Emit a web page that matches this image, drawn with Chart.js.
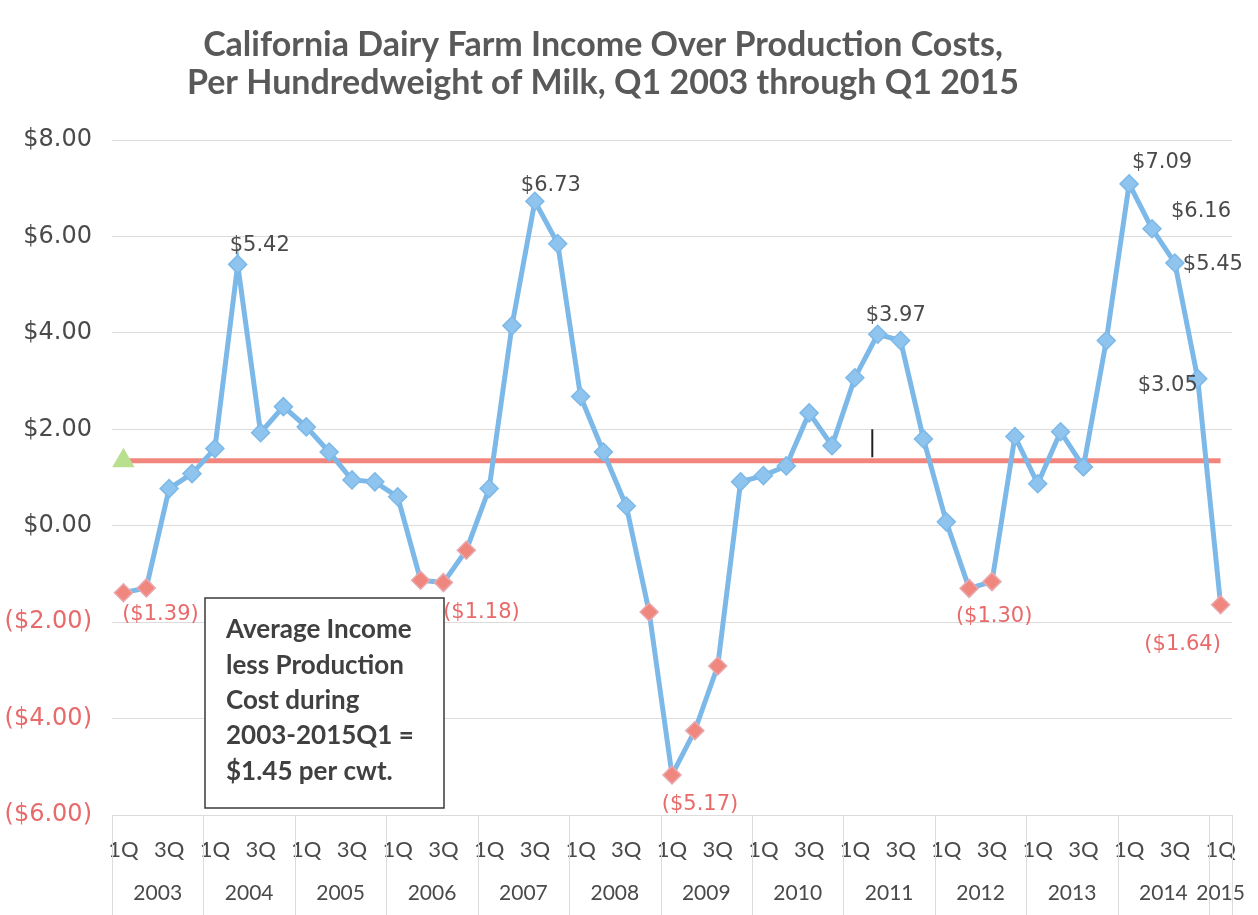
<!DOCTYPE html>
<html>
<head>
<meta charset="utf-8">
<script src="https://cdn.jsdelivr.net/npm/chart.js@4.4.1/dist/chart.umd.min.js"></script>
<style>
  html, body { margin: 0; padding: 0; background: #fff; }
  #wrap { width: 1258px; height: 915px; position: relative; }
</style>
</head>
<body>
<div id="wrap"><canvas id="dairyChart"></canvas></div>
<script>
// Quarter labels, years and income-over-cost values ($/cwt)
const quarters = [
  '1Q','2Q','3Q','4Q', '1Q','2Q','3Q','4Q', '1Q','2Q','3Q','4Q', '1Q','2Q','3Q','4Q',
  '1Q','2Q','3Q','4Q', '1Q','2Q','3Q','4Q', '1Q','2Q','3Q','4Q', '1Q','2Q','3Q','4Q',
  '1Q','2Q','3Q','4Q', '1Q','2Q','3Q','4Q', '1Q','2Q','3Q','4Q', '1Q','2Q','3Q','4Q',
  '1Q'
];
const years = ['2003','2004','2005','2006','2007','2008','2009','2010','2011','2012','2013','2014','2015'];
const income = [
  -1.39, -1.29, 0.77, 1.08,   // 2003
   1.60,  5.42, 1.93, 2.47,   // 2004
   2.05,  1.53, 0.95, 0.91,   // 2005
   0.60, -1.13, -1.18, -0.51, // 2006
   0.77,  4.15, 6.73, 5.85,   // 2007
   2.68,  1.53, 0.41, -1.79,  // 2008
  -5.17, -4.25, -2.91, 0.91,  // 2009
   1.04,  1.24, 2.34, 1.66,   // 2010
   3.07,  3.97, 3.84, 1.80,   // 2011
   0.08, -1.30, -1.16, 1.85,  // 2012
   0.87,  1.95, 1.22, 3.84,   // 2013
   7.09,  6.16, 5.45, 3.05,   // 2014
  -1.64                       // 2015
];
const averageValue = 1.35;
const yTicks = [-6, -4, -2, 0, 2, 4, 6, 8];
const boxLines = ['Average Income', 'less Production', 'Cost during', '2003-2015Q1 =', '$1.45 per cwt.'];

// which points carry a value label, and where it sits relative to the marker (px)
const labelSpots = [
  { i: 0,  dx: 37,  dy: 22 },
  { i: 5,  dx: 22,  dy: -19 },
  { i: 14, dx: 38,  dy: 30 },
  { i: 18, dx: 16,  dy: -16 },
  { i: 24, dx: 28,  dy: 30 },
  { i: 33, dx: 18,  dy: -19 },
  { i: 37, dx: 25,  dy: 28 },
  { i: 44, dx: 33,  dy: -21 },
  { i: 45, dx: 49,  dy: -17 },
  { i: 46, dx: 38,  dy: 2 },
  { i: 47, dx: -30, dy: 7 },
  { i: 48, dx: -38, dy: 40 }
];

const colors = {
  line: '#7db9e8',
  posPoint: '#8ec4ee',
  negPoint: '#f0877e',
  avg: '#f3867c',
  avgMarker: '#b9e08e',
  text: '#4a4a4a',
  negText: '#e86a6a',
  grid: '#dcdcdc'
};

function money(v) {
  const s = '$' + Math.abs(v).toFixed(2);
  return v < 0 ? '(' + s + ')' : s;
}

// Title, year row, separators, value labels and the note box
const decorations = {
  id: 'decorations',
  afterDraw(chart) {
    const ctx = chart.ctx;
    const area = chart.chartArea;
    const x = chart.scales.x;
    const y = chart.scales.y;
    const half = (x.getPixelForValue(1) - x.getPixelForValue(0)) / 2;

    ctx.save();
    // title
    ctx.fillStyle = '#595959';
    ctx.font = "bold 34px Lato";
    ctx.textAlign = 'center';
    ctx.textBaseline = 'middle';
    ctx.fillText('California Dairy Farm Income Over Production Costs,', 603, 45);
    ctx.fillText('Per Hundredweight of Milk, Q1 2003 through Q1 2015', 603, 83);

    // year groups below the quarter labels
    ctx.strokeStyle = colors.grid;
    ctx.lineWidth = 1;
    ctx.font = "21px Lato";
    ctx.fillStyle = colors.text;
    years.forEach((yr, k) => {
      const first = k * 4;
      const last = Math.min(first + 3, quarters.length - 1);
      const left = x.getPixelForValue(first) - half;
      const right = x.getPixelForValue(last) + half;
      ctx.beginPath();
      ctx.moveTo(Math.round(left) + 0.5, area.bottom);
      ctx.lineTo(Math.round(left) + 0.5, 915);
      ctx.stroke();
      if (k === years.length - 1) {
        ctx.beginPath();
        ctx.moveTo(Math.round(right) + 0.5, area.bottom);
        ctx.lineTo(Math.round(right) + 0.5, 915);
        ctx.stroke();
      }
      ctx.fillText(yr, (left + right) / 2, 893);
    });

    // small vertical tick near 2011
    const tx = (x.getPixelForValue(32) + x.getPixelForValue(33)) / 2 + 6;
    ctx.strokeStyle = '#222';
    ctx.lineWidth = 2;
    ctx.beginPath();
    ctx.moveTo(tx, y.getPixelForValue(2.0));
    ctx.lineTo(tx, y.getPixelForValue(1.42));
    ctx.stroke();

    // value labels
    const meta = chart.getDatasetMeta(1);
    ctx.font = "21px 'DejaVu Sans'";
    labelSpots.forEach(s => {
      const pt = meta.data[s.i];
      const v = income[s.i];
      ctx.fillStyle = v < 0 ? colors.negText : colors.text;
      ctx.fillText(money(v), pt.x + s.dx, pt.y + s.dy);
    });

    // note box
    const bx = 205, by = 598, bw = 239, bh = 210;
    ctx.fillStyle = '#fff';
    ctx.fillRect(bx, by, bw, bh);
    ctx.strokeStyle = '#3a3a3a';
    ctx.lineWidth = 1.5;
    ctx.strokeRect(bx, by, bw, bh);
    ctx.fillStyle = '#404040';
    ctx.font = "bold 26px Lato";
    ctx.textAlign = 'left';
    boxLines.forEach((t, k) => ctx.fillText(t, bx + 21, by + 32 + k * 35.3));
    ctx.restore();
  }
};

new Chart(document.getElementById('dairyChart'), {
  type: 'line',
  data: {
    labels: quarters,
    datasets: [
      {
        label: 'Average',
        data: quarters.map(() => averageValue),
        borderColor: colors.avg,
        borderWidth: 5,
        pointStyle: 'triangle',
        pointRadius: ctx => ctx.dataIndex === 0 ? 8 : 0,
        pointBackgroundColor: colors.avgMarker,
        pointBorderColor: colors.avgMarker,
        order: 2
      },
      {
        label: 'Income over production cost',
        data: income,
        borderColor: colors.line,
        borderWidth: 5,
        tension: 0,
        pointStyle: 'rectRot',
        pointRadius: 9,
        pointBorderWidth: 1.5,
        pointBackgroundColor: ctx => ctx.raw < 0 ? colors.negPoint : colors.posPoint,
        pointBorderColor: ctx => ctx.raw < 0 ? '#e7a9b0' : '#7db9e8',
        order: 1
      }
    ]
  },
  options: {
    responsive: true,
    maintainAspectRatio: false,
    animation: false,
    layout: { padding: { top: 140, right: 23, left: 0, bottom: 0 } },
    plugins: {
      legend: { display: false },
      tooltip: { enabled: false },
      title: { display: false }
    },
    scales: {
      x: {
        offset: true,
        grid: { display: false, drawTicks: false },
        border: { display: false },
        ticks: {
          autoSkip: false,
          maxRotation: 0,
          padding: 22,
          color: colors.text,
          font: { family: 'Lato', size: 22 },
          callback: (val, idx) => idx % 2 === 0 ? quarters[idx] : ''
        },
        afterFit: scale => { scale.height = 100; }
      },
      y: {
        min: -6,
        max: 8,
        afterBuildTicks: scale => { scale.ticks = yTicks.map(v => ({ value: v })); },
        grid: { color: colors.grid, drawTicks: false },
        border: { display: false },
        ticks: {
          padding: 20,
          font: { family: 'DejaVu Sans', size: 24 },
          color: ctx => ctx.tick.value < 0 ? colors.negText : colors.text,
          callback: v => money(v)
        },
        afterFit: scale => { scale.width = 112; }
      }
    }
  },
  plugins: [decorations]
});
</script>
</body>
</html>
